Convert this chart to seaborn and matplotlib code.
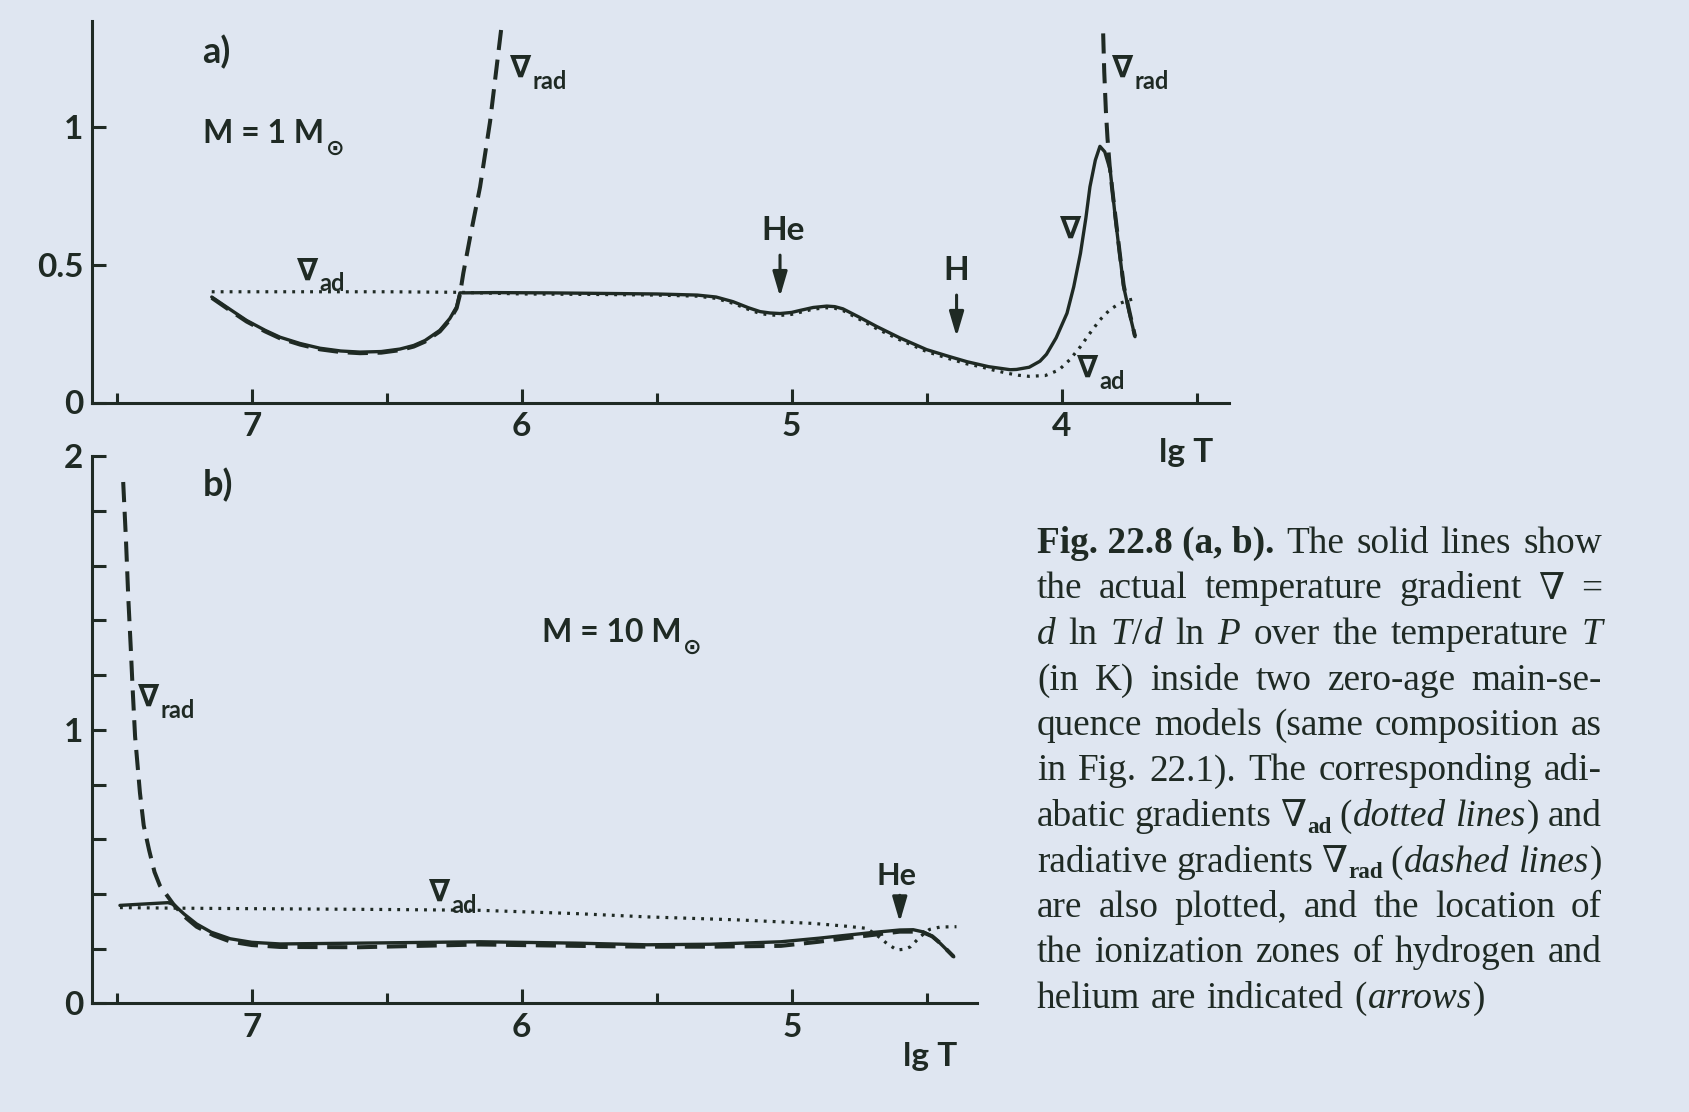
import numpy as np
import pandas as pd
import matplotlib
matplotlib.use("Agg")
import matplotlib.pyplot as plt
from matplotlib.transforms import IdentityTransform
import seaborn as sns

# ---------------- data ----------------
# panel a: M = 1 Msun
a_grad_lgT = [7.148, 7.08, 7.019, 6.95, 6.895, 6.82, 6.747, 6.67, 6.599, 6.52, 6.451, 6.40,
              6.358, 6.303, 6.266, 6.241, 6.229, 6.10, 5.90, 5.70, 5.50, 5.35, 5.28, 5.217,
              5.16, 5.117, 5.08, 5.043, 5.00, 4.97, 4.92, 4.87, 4.84, 4.81, 4.75, 4.685,
              4.60, 4.50, 4.42, 4.35, 4.27, 4.19, 4.167, 4.12, 4.08, 4.056, 4.02, 3.98,
              3.955, 3.93, 3.91, 3.895, 3.875, 3.858, 3.84, 3.82, 3.80, 3.785, 3.77, 3.75, 3.728]
a_grad_val = [0.383, 0.338, 0.298, 0.262, 0.237, 0.214, 0.197, 0.187, 0.183, 0.185, 0.194, 0.207,
              0.225, 0.262, 0.305, 0.347, 0.398, 0.399, 0.398, 0.396, 0.394, 0.390, 0.383, 0.366,
              0.344, 0.330, 0.325, 0.323, 0.327, 0.334, 0.345, 0.350, 0.348, 0.340, 0.310, 0.276,
              0.235, 0.192, 0.168, 0.148, 0.130, 0.119, 0.120, 0.128, 0.150, 0.175, 0.235, 0.324,
              0.420, 0.542, 0.670, 0.783, 0.880, 0.930, 0.910, 0.844, 0.662, 0.540, 0.420, 0.330, 0.239]

a_ad_lgT = [7.148, 6.80, 6.50, 6.229, 6.00, 5.70, 5.50, 5.35, 5.28, 5.217, 5.16, 5.117, 5.08,
            5.043, 5.00, 4.97, 4.92, 4.87, 4.84, 4.81, 4.75, 4.685, 4.60, 4.50, 4.42, 4.35,
            4.30, 4.25, 4.20, 4.16, 4.12, 4.06, 4.01, 3.97, 3.93, 3.90, 3.858, 3.82, 3.784,
            3.75, 3.722]
a_ad_val = [0.402, 0.402, 0.402, 0.400, 0.394, 0.392, 0.390, 0.386, 0.378, 0.360, 0.338, 0.323,
            0.318, 0.316, 0.320, 0.327, 0.339, 0.344, 0.342, 0.334, 0.303, 0.268, 0.228, 0.185,
            0.160, 0.140, 0.130, 0.117, 0.106, 0.099, 0.095, 0.098, 0.118, 0.155, 0.203, 0.245,
            0.300, 0.338, 0.360, 0.372, 0.379]

a_rad_core_lgT = [7.148, 7.08, 7.019, 6.95, 6.895, 6.82, 6.747, 6.67, 6.599, 6.52, 6.451, 6.40,
                  6.358, 6.303, 6.266, 6.241, 6.229, 6.216, 6.191, 6.154, 6.117, 6.074]
a_rad_core_val = [0.380, 0.334, 0.294, 0.258, 0.233, 0.210, 0.193, 0.183, 0.179, 0.181, 0.190,
                  0.203, 0.221, 0.258, 0.300, 0.342, 0.390, 0.470, 0.600, 0.783, 1.020, 1.370]

a_rad_env_lgT = [3.846, 3.842, 3.836, 3.830, 3.822, 3.812, 3.800, 3.785, 3.770, 3.750, 3.728]
a_rad_env_val = [1.340, 1.200, 1.060, 0.960, 0.860, 0.770, 0.670, 0.545, 0.425, 0.335, 0.240]

# panel b: M = 10 Msun
b_grad_lgT = [7.488, 7.40, 7.31, 7.29, 7.25, 7.204, 7.15, 7.08, 7.00, 6.895, 6.60, 6.155, 5.80,
              5.537, 5.30, 5.04, 4.90, 4.796, 4.70, 4.60, 4.55, 4.513, 4.48, 4.45, 4.40]
b_grad_val = [0.358, 0.363, 0.368, 0.362, 0.326, 0.290, 0.260, 0.236, 0.223, 0.217, 0.220,
              0.225, 0.220, 0.214, 0.216, 0.225, 0.238, 0.249, 0.259, 0.268, 0.269, 0.261,
              0.245, 0.219, 0.170]

b_ad_lgT = [7.488, 7.30, 7.00, 6.50, 6.155, 5.80, 5.537, 5.20, 4.92, 4.80, 4.722, 4.68, 4.648,
            4.611, 4.58, 4.56, 4.525, 4.49, 4.45, 4.39]
b_ad_val = [0.350, 0.348, 0.346, 0.343, 0.340, 0.328, 0.316, 0.305, 0.292, 0.282, 0.274, 0.245,
            0.219, 0.195, 0.198, 0.207, 0.243, 0.270, 0.279, 0.280]

b_rad_lgT = [7.476, 7.466, 7.457, 7.448, 7.441, 7.432, 7.414, 7.40, 7.38, 7.36, 7.34, 7.29, 7.25,
             7.204, 7.14, 7.08, 7.00, 6.895, 6.60, 6.155, 5.80, 5.537, 5.30, 5.04, 4.90, 4.80,
             4.70, 4.60, 4.52, 4.48, 4.45, 4.40]
b_rad_val = [1.906, 1.700, 1.480, 1.300, 1.150, 0.976, 0.770, 0.650, 0.560, 0.480, 0.430, 0.362,
             0.318, 0.280, 0.248, 0.226, 0.213, 0.206, 0.205, 0.215, 0.210, 0.207, 0.207, 0.210,
             0.225, 0.238, 0.250, 0.262, 0.262, 0.245, 0.220, 0.170]

a_x_major = [7, 6, 5, 4]
a_x_labels = ["7", "6", "5", "4"]
b_x_major = [7, 6, 5]
b_x_labels = ["7", "6", "5"]
a_x_minor = [7.5, 6.5, 5.5, 4.5, 3.5]
b_x_minor = [7.5, 6.5, 5.5, 4.5]
a_y_ticks = [0, 0.5, 1]
a_y_labels = ["0", "0.5", "1"]
b_y_ticks = [0, 1, 2]
b_y_labels = ["0", "1", "2"]
b_y_minor = [0.2, 0.4, 0.6, 0.8, 1.2, 1.4, 1.6, 1.8]

caption_lines = [
    "*Fig.\u00a022.8\u00a0(a,\u00a0b).* The solid lines show",
    "the actual temperature gradient \u2207 =",
    "_d_ ln _T_/_d_ ln _P_ over the temperature _T_",
    "(in K) inside two zero-age main-se-",
    "quence models (same composition as",
    "in Fig. 22.1). The corresponding adi-",
    "abatic gradients \u2207^ad^ (_dotted lines_) and",
    "radiative gradients \u2207^rad^ (_dashed lines_)",
    "are also plotted, and the location of",
    "the ionization zones of hydrogen and",
    "helium are indicated (_arrows_)",
]

# ---------------- style ----------------
W, H = 1690, 1112
BG = "#dfe6f1"
INK = "#1f2a24"
sns.set_theme(style="white")
plt.rcParams["font.family"] = ["Lato", "DejaVu Sans"]
plt.rcParams["text.color"] = INK

fig = plt.figure(figsize=(W / 100, H / 100), dpi=100)
fig.patch.set_facecolor(BG)


def px_axes(x0, x1, y_top, y_bot):
    return fig.add_axes([x0 / W, 1 - y_bot / H, (x1 - x0) / W, (y_bot - y_top) / H])


ax_a = px_axes(91.6, 1228.7, 21, 402.5)
ax_b = px_axes(91.6, 977, 456.3, 1003.3)

DASH = (0, (5.0, 2.4))
DOT = (0, (0.9, 1.9))


def draw(ax, xs, ys, kind):
    df = pd.DataFrame({"lgT": xs, "val": ys})
    if kind == "solid":
        kw = dict(lw=2.4, linestyle="-", zorder=3)
    elif kind == "dash":
        kw = dict(lw=2.9, linestyle=DASH, zorder=4)
    else:
        kw = dict(lw=2.3, linestyle=DOT, zorder=2)
    sns.lineplot(data=df, x="lgT", y="val", ax=ax, color=INK, sort=False,
                 estimator=None, legend=False, **kw)


draw(ax_a, a_ad_lgT, a_ad_val, "dot")
draw(ax_a, a_grad_lgT, a_grad_val, "solid")
draw(ax_a, a_rad_core_lgT, a_rad_core_val, "dash")
draw(ax_a, a_rad_env_lgT, a_rad_env_val, "dash")

draw(ax_b, b_ad_lgT, b_ad_val, "dot")
draw(ax_b, b_grad_lgT, b_grad_val, "solid")
draw(ax_b, b_rad_lgT, b_rad_val, "dash")

for ax, xmaj, xlab, xmin, yt, yl, ymin in [
        (ax_a, a_x_major, a_x_labels, a_x_minor, a_y_ticks, a_y_labels, []),
        (ax_b, b_x_major, b_x_labels, b_x_minor, b_y_ticks, b_y_labels, b_y_minor)]:
    ax.set_facecolor("none")
    ax.set_xlabel("")
    ax.set_ylabel("")
    for s in ["top", "right"]:
        ax.spines[s].set_visible(False)
    for s in ["left", "bottom"]:
        ax.spines[s].set_linewidth(2.2)
        ax.spines[s].set_color(INK)
    ax.set_xticks(xmaj)
    ax.set_xticklabels(xlab)
    ax.set_xticks(xmin, minor=True)
    ax.set_yticks(yt)
    ax.set_yticklabels(yl)
    ax.set_yticks(ymin, minor=True)
    ax.tick_params(axis="both", which="both", direction="in", color=INK, width=2.2,
                   labelcolor=INK, labelsize=24, bottom=True, left=True,
                   top=False, right=False)
    ax.tick_params(axis="x", which="major", length=10, pad=7)
    ax.tick_params(axis="x", which="minor", length=7)
    ax.tick_params(axis="y", which="both", length=10, pad=6)
    for lab in ax.get_xticklabels() + ax.get_yticklabels():
        lab.set_fontweight("bold")

# limits after ticks (ticks would otherwise widen the view)
ax_a.set_xlim(7.593, 3.381)
ax_a.set_ylim(0, 1.385)
ax_b.set_xlim(7.593, 4.314)
ax_b.set_ylim(0, 2.0)


def sub_label(ax, x, y, main, sub, size, subsize):
    t = ax.text(x, y, main, fontsize=size, ha="left", va="center", color=INK,
                fontweight="bold", family=["Lato", "DejaVu Sans"])
    ax.annotate(sub, xy=(1, 0.02), xycoords=t, xytext=(1, 0), textcoords="offset points",
                ha="left", va="center", fontsize=subsize, color=INK, fontweight="bold",
                family=["Lato", "DejaVu Sans"])


def arrow(ax, x, y_tail, y_tip):
    ax.annotate("", xy=(x, y_tip), xytext=(x, y_tail),
                arrowprops=dict(arrowstyle="-|>,head_length=0.75,head_width=0.22",
                                color=INK, lw=2.2, shrinkA=0, shrinkB=0, mutation_scale=20))


txt = dict(color=INK, fontweight="bold")
# panel a annotations
ax_a.text(7.185, 1.272, "a)", fontsize=26, ha="left", va="center", **txt)
sub_label(ax_a, 7.18, 0.975, "M = 1 M", "\u2299", 23, 16)
sub_label(ax_a, 6.043, 1.215, "\u2207", "rad", 22, 17)
sub_label(ax_a, 6.832, 0.480, "\u2207", "ad", 22, 17)
sub_label(ax_a, 3.943, 0.125, "\u2207", "ad", 22, 17)
sub_label(ax_a, 3.814, 1.215, "\u2207", "rad", 22, 17)
ax_a.text(3.966, 0.632, "\u2207", fontsize=22, ha="center", va="center",
          family=["Lato", "DejaVu Sans"], **txt)
ax_a.text(5.032, 0.626, "He", fontsize=24, ha="center", va="center", **txt)
arrow(ax_a, 5.043, 0.535, 0.384)
ax_a.text(4.389, 0.481, "H", fontsize=24, ha="center", va="center", **txt)
arrow(ax_a, 4.389, 0.390, 0.239)
ax_a.text(3.64, -0.183, "lg T", fontsize=24, ha="left", va="center", **txt)

# panel b annotations
ax_b.text(7.18, 1.895, "b)", fontsize=26, ha="left", va="center", **txt)
sub_label(ax_b, 5.925, 1.354, "M = 10 M", "\u2299", 23, 16)
sub_label(ax_b, 7.421, 1.120, "\u2207", "rad", 22, 17)
sub_label(ax_b, 6.343, 0.407, "\u2207", "ad", 22, 17)
ax_b.text(4.611, 0.466, "He", fontsize=22, ha="center", va="center", **txt)
arrow(ax_b, 4.60, 0.395, 0.297)
ax_b.text(4.588, -0.193, "lg T", fontsize=24, ha="left", va="center", **txt)

# ---------------- justified caption ----------------
CAP_X0, CAP_X1 = 1037, 1603
CAP_Y0, CAP_DY = 553, 45.5
SERIF = ["Liberation Serif", "DejaVu Serif"]
renderer = fig.canvas.get_renderer()


def parse(line):
    st = dict(b=False, i=False, s=False)
    keys = {"*": "b", "_": "i", "^": "s"}
    tokens = []
    for w in line.split(" "):
        runs, cur = [], ""
        for ch in w:
            if ch in keys:
                if cur:
                    runs.append((cur, dict(st)))
                    cur = ""
                st[keys[ch]] = not st[keys[ch]]
            else:
                cur += " " if ch == "\u00a0" else ch
        if cur:
            runs.append((cur, dict(st)))
        tokens.append(runs)
    return tokens


def make_runs(tokens, size):
    out = []
    for runs in tokens:
        arts = []
        for text, st in runs:
            fs = size * 0.62 if st["s"] else size
            t = fig.text(0, 0, text, fontsize=fs, family=SERIF,
                         weight="bold" if (st["b"] or st["s"]) else "normal",
                         style="italic" if st["i"] else "normal",
                         color=INK, ha="left", va="baseline", transform=IdentityTransform())
            arts.append((t, st))
        out.append(arts)
    return out


def width_of(t):
    return t.get_window_extent(renderer).width


parsed = [parse(l) for l in caption_lines]
size0 = 24.0
em0 = size0 * 100 / 72
need = 0
for toks in parsed[:-1]:
    arts = make_runs(toks, size0)
    wsum = sum(width_of(t) for a in arts for t, _ in a)
    need = max(need, (wsum + (len(arts) - 1) * 0.24 * em0) / (CAP_X1 - CAP_X0))
    for a in arts:
        for t, _ in a:
            t.remove()
size = size0 / need
em = size * 100 / 72

for i, toks in enumerate(parsed):
    arts = make_runs(toks, size)
    tok_w = []
    run_w = []
    for a in arts:
        ws = [width_of(t) + (0.03 * em if not st["s"] else 0.0) for t, st in a]
        run_w.append(ws)
        tok_w.append(sum(ws))
    if i < len(parsed) - 1 and len(arts) > 1:
        gap = (CAP_X1 - CAP_X0 - sum(tok_w)) / (len(arts) - 1)
    else:
        gap = 0.25 * em
    x = CAP_X0
    yb = H - (CAP_Y0 + i * CAP_DY)
    for a, ws, tw in zip(arts, run_w, tok_w):
        xx = x
        for (t, st), w in zip(a, ws):
            t.set_position((xx, yb - (0.18 * em if st["s"] else 0.0)))
            xx += w
        x += tw + gap

fig.savefig("out.png", dpi=100, facecolor=BG)
